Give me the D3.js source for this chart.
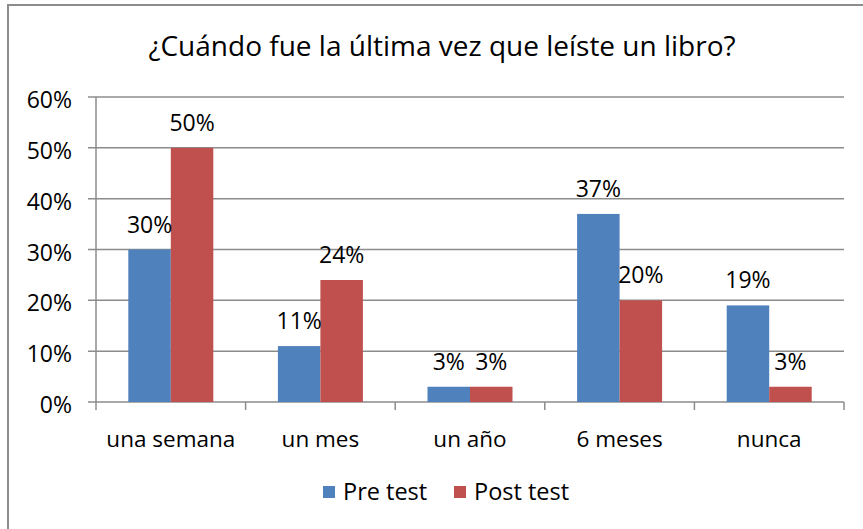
<!DOCTYPE html>
<html>
<head>
<meta charset="utf-8">
<script src="https://cdn.jsdelivr.net/npm/d3@7"></script>
<style>
  body { margin: 0; background: #fff; }
  svg { display: block; font-family: "Open Sans", sans-serif; }
</style>
</head>
<body>
<svg id="chart" width="863" height="529"></svg>
<script>
'use strict';

var title = '¿Cuándo fue la última vez que leíste un libro?';
var categories = ['una semana', 'un mes', 'un año', '6 meses', 'nunca'];
var seriesNames = ['Pre test', 'Post test'];
var preTest = [30, 11, 3, 37, 19];
var postTest = [50, 24, 3, 20, 3];
var yTicks = [0, 10, 20, 30, 40, 50, 60];

var colors = ['#4F81BD', '#C0504D'];
var margin = { top: 97, right: 19, bottom: 127, left: 96 };
var width = 863, height = 529;
var chart = {
  width: width - margin.left - margin.right,
  height: height - margin.top - margin.bottom
};

var svg = d3.select('#chart');

// outer frame (right/bottom edges fall outside the picture)
svg.append('rect')
  .attr('x', 8).attr('y', 5)
  .attr('width', 900).attr('height', 600)
  .attr('fill', 'none')
  .attr('stroke', '#8c8c8c')
  .attr('stroke-width', 2);

svg.append('text')
  .text(title)
  .attr('x', 442)
  .attr('y', 56)
  .attr('text-anchor', 'middle')
  .attr('font-size', 28)
  .attr('fill', '#000');

var g = svg.append('g')
  .attr('transform', 'translate(' + margin.left + ',' + margin.top + ')');

var xScale = d3.scaleBand().domain(categories).range([0, chart.width]);
var xInner = d3.scaleBand().domain(seriesNames)
  .range([0, xScale.bandwidth()]).paddingOuter(0.76).paddingInner(0);
var yScale = d3.scaleLinear().domain([0, 60]).range([chart.height, 0]);

// gridlines
g.selectAll('line.grid')
  .data(yTicks)
  .enter().append('line')
  .attr('class', 'grid')
  .attr('x1', -8).attr('x2', chart.width)
  .attr('y1', function(d) { return yScale(d); })
  .attr('y2', function(d) { return yScale(d); })
  .attr('stroke', '#8c8c8c')
  .attr('stroke-width', 1.5);

// y axis line
g.append('line')
  .attr('x1', 0).attr('x2', 0)
  .attr('y1', 0).attr('y2', chart.height)
  .attr('stroke', '#8c8c8c').attr('stroke-width', 1.5);

// x tick marks at category boundaries
var bounds = categories.map(function(c) { return xScale(c); }).concat([chart.width]);
g.selectAll('line.xtick')
  .data(bounds)
  .enter().append('line')
  .attr('class', 'xtick')
  .attr('x1', function(d) { return d; }).attr('x2', function(d) { return d; })
  .attr('y1', chart.height).attr('y2', chart.height + 8)
  .attr('stroke', '#8c8c8c').attr('stroke-width', 1.5);

// y labels
g.selectAll('text.ylabel')
  .data(yTicks)
  .enter().append('text')
  .attr('class', 'ylabel')
  .text(function(d) { return d + '%'; })
  .attr('x', -24)
  .attr('y', function(d) { return yScale(d) + 11; })
  .attr('text-anchor', 'end')
  .attr('font-size', 23);

// x labels
g.selectAll('text.xlabel')
  .data(categories)
  .enter().append('text')
  .attr('class', 'xlabel')
  .text(function(d) { return d; })
  .attr('x', function(d) { return xScale(d) + xScale.bandwidth() / 2; })
  .attr('y', chart.height + 45)
  .attr('text-anchor', 'middle')
  .attr('font-size', 22.5);

// bars
var rows = categories.map(function(c, i) {
  return { label: c, values: [preTest[i], postTest[i]] };
});

var group = g.selectAll('g.group')
  .data(rows)
  .enter().append('g')
  .attr('class', 'group')
  .attr('transform', function(d) { return 'translate(' + xScale(d.label) + ',0)'; });

group.selectAll('rect')
  .data(function(d) { return d.values.map(function(v, j) { return { s: seriesNames[j], v: v, j: j }; }); })
  .enter().append('rect')
  .attr('x', function(d) { return xInner(d.s); })
  .attr('y', function(d) { return yScale(d.v); })
  .attr('width', xInner.bandwidth())
  .attr('height', function(d) { return chart.height - yScale(d.v); })
  .attr('fill', function(d) { return colors[d.j]; });

group.selectAll('text')
  .data(function(d) { return d.values.map(function(v, j) { return { s: seriesNames[j], v: v, j: j }; }); })
  .enter().append('text')
  .text(function(d) { return d.v + '%'; })
  .attr('x', function(d) { return xInner(d.s) + xInner.bandwidth() / 2; })
  .attr('y', function(d) { return yScale(d.v) - 17; })
  .attr('text-anchor', 'middle')
  .attr('font-size', 23);

// legend
var legend = svg.append('g').attr('transform', 'translate(323,486)');
var item = legend.selectAll('g')
  .data(seriesNames)
  .enter().append('g')
  .attr('transform', function(d, i) { return 'translate(' + (i * 131) + ',0)'; });
item.append('rect')
  .attr('width', 12).attr('height', 12)
  .attr('fill', function(d, i) { return colors[i]; });
item.append('text')
  .text(function(d) { return d; })
  .attr('x', 20).attr('y', 14)
  .attr('font-size', 23.5);
</script>
</body>
</html>
